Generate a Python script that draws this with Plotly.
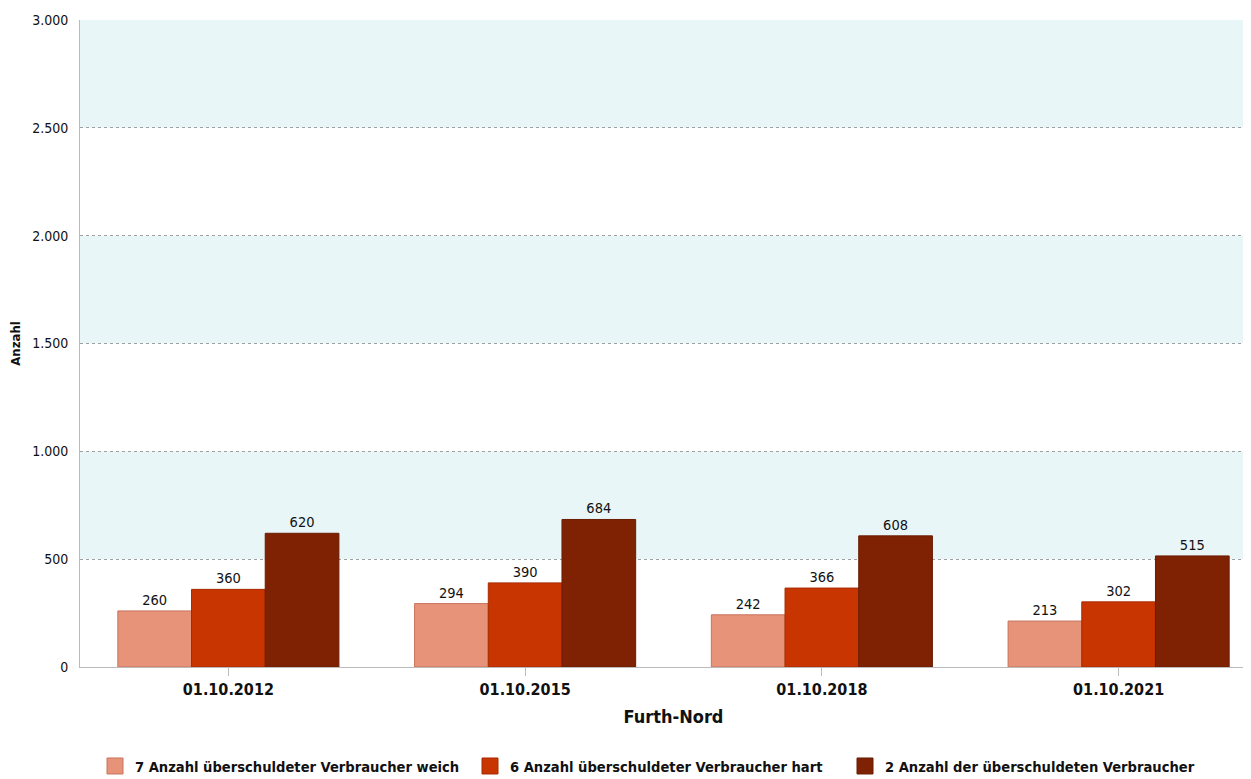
import plotly.graph_objects as go

categories = ["01.10.2012", "01.10.2015", "01.10.2018", "01.10.2021"]
weich = [260, 294, 242, 213]
hart = [360, 390, 366, 302]
gesamt = [620, 684, 608, 515]
series_names = [
    "7 Anzahl überschuldeter Verbraucher weich",
    "6 Anzahl überschuldeter Verbraucher hart",
    "2 Anzahl der überschuldeten Verbraucher",
]
colors = ["#E6937A", "#C83500", "#7F2204"]
borders = ["#C9735C", "#A82C00", "#6A1C03"]

FONT = "DejaVu Sans Condensed"
W, H = 1259, 779
L, R, T, B = 72, 0, 12, 120

fig = go.Figure()
for name, vals, c, bc in zip(series_names, [weich, hart, gesamt], colors, borders):
    fig.add_trace(go.Bar(
        x=categories, y=vals, name=name, showlegend=False,
        marker=dict(color=c, line=dict(color=bc, width=1)),
        text=[str(v) for v in vals], textposition="outside",
        textfont=dict(family=FONT, size=14.5, color="#111111"),
        cliponaxis=False,
    ))
# legend proxies (larger square symbols)
for name, c, bc in zip(series_names, colors, borders):
    fig.add_trace(go.Scatter(
        x=[None], y=[None], mode="markers", name="<b>" + name + "</b>",
        marker=dict(symbol="square", size=20, color=c, line=dict(color=bc, width=1)),
    ))

# alternating bands
for lo, hi in [(500, 1000), (1500, 2000), (2500, 3000)]:
    fig.add_shape(type="rect", xref="paper", yref="y", x0=0, x1=1, y0=lo, y1=hi,
                  fillcolor="#E8F6F8", line=dict(width=0), layer="below")

pw = W - L - R
ph = H - T - B

fig.update_layout(
    width=W, height=H,
    margin=dict(l=L, r=R, t=T, b=B),
    paper_bgcolor="white", plot_bgcolor="rgba(0,0,0,0)",
    separators=",.",
    barmode="group", bargap=0.255, bargroupgap=0,
    font=dict(family=FONT, color="#111111"),
    xaxis=dict(
        range=[-0.5, 3.5], automargin=False,
        tickfont=dict(family=FONT, size=16, color="#111111"),
        tickprefix="<b>", ticksuffix="</b>",
        ticks="outside", ticklen=8, tickcolor="#BBBBBB",
        showline=True, linecolor="#BBBBBB", linewidth=1,
        title=dict(text="<b>Furth-Nord</b>", font=dict(family=FONT, size=18, color="#111111"), standoff=12),
    ),
    yaxis=dict(
        range=[0, 3000], tickvals=[0, 500, 1000, 1500, 2000, 2500, 3000],
        tickformat=",d", automargin=False,
        tickfont=dict(family=FONT, size=14, color="#111111"),
        showgrid=True, gridcolor="#A0A0A0", griddash="dot", gridwidth=1,
        showline=True, linecolor="#BBBBBB", linewidth=1,
        zeroline=False, ticks="", ticklabelstandoff=8,
        title=dict(text="<b>Anzahl</b>", font=dict(family=FONT, size=13, color="#111111"), standoff=20),
    ),
    legend=dict(
        orientation="h", x=(87 - L) / pw, xanchor="left", y=-(758 - (T + ph)) / ph, yanchor="middle",
        font=dict(family=FONT, size=14.6, color="#111111"),
        itemwidth=30, tracegroupgap=0,
        entrywidthmode="pixels", entrywidth=330,
    ),
    showlegend=True,
)

fig.write_html("out.html")
